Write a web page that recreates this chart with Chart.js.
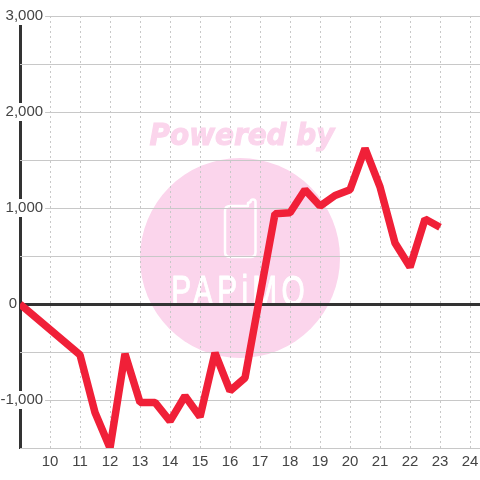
<!DOCTYPE html>
<html>
<head>
<meta charset="utf-8">
<style>
  html, body { margin: 0; padding: 0; background: #fff; }
  canvas { display: block; }
</style>
<script src="https://cdn.jsdelivr.net/npm/chart.js@4"></script>
</head>
<body>
<canvas id="grafico" width="480" height="480"></canvas>
<script>
// hours of the day and the value at each half hour
const horas = [9, 11, 11.5, 12, 12.5, 13, 13.5, 14, 14.5, 15, 15.5, 16, 16.5, 17, 17.5, 18, 18.5, 19, 19.5, 20, 20.5, 21, 21.5, 22, 22.5, 23];
const valores = [0, -530, -1130, -1500, -520, -1025, -1025, -1220, -958, -1175, -510, -905, -770, 90, 940, 950, 1190, 1020, 1130, 1190, 1620, 1220, 635, 385, 885, 800];

const corTexto = '#444';
const corGrade = '#c8c8c8';
const corEixo = '#333';
const fonte = { family: '"Liberation Sans", Arial, sans-serif', size: 15 };

// watermark sits under the grid
const marcaDagua = {
  id: 'marcaDagua',
  beforeDraw(chart) {
    const ctx = chart.ctx;
    ctx.save();
    ctx.fillStyle = '#fbd5ec';
    ctx.beginPath();
    ctx.arc(240, 258, 100, 0, Math.PI * 2);
    ctx.fill();

    ctx.font = 'italic bold 31px "DejaVu Sans Condensed", "DejaVu Sans"';
    ctx.textAlign = 'center';
    ctx.textBaseline = 'alphabetic';
    ctx.strokeStyle = '#fbd5ec';
    ctx.lineWidth = 1;
    ctx.fillText('Powered by', 242, 145);
    ctx.strokeText('Powered by', 242, 145);

    // phone
    ctx.strokeStyle = '#fff';
    ctx.lineWidth = 2.5;
    ctx.lineJoin = 'round';
    ctx.beginPath();
    ctx.moveTo(230, 206);
    ctx.lineTo(248, 206);
    ctx.lineTo(248, 203);
    ctx.arc(253, 202, 2.5, Math.PI, 0);
    ctx.lineTo(255.5, 252);
    ctx.quadraticCurveTo(255.5, 257, 251, 257);
    ctx.lineTo(230, 257);
    ctx.quadraticCurveTo(225, 257, 225, 252);
    ctx.lineTo(225, 211);
    ctx.quadraticCurveTo(225, 206, 230, 206);
    ctx.stroke();

    // name, stretched tall
    ctx.fillStyle = '#fff';
    ctx.translate(240, 305);
    ctx.scale(1.42, 2.05);
    ctx.font = '21px "Liberation Sans"';
    ctx.letterSpacing = '3px';
    ctx.lineWidth = 0.5;
    ctx.fillText('PAPiMO', 0, 0);
    ctx.strokeText('PAPiMO', 0, 0);
    ctx.restore();
  }
};

const grafico = new Chart(document.getElementById('grafico'), {
  type: 'line',
  data: {
    datasets: [{
      data: horas.map((h, i) => ({ x: h, y: valores[i] })),
      borderColor: '#f02038',
      borderWidth: 7.5,
      borderJoinStyle: 'bevel',
      pointRadius: 0,
      tension: 0
    }]
  },
  plugins: [marcaDagua],
  options: {
    responsive: false,
    animation: false,
    layout: { padding: { top: 16, left: 0, right: 0, bottom: 0 } },
    plugins: { legend: { display: false }, tooltip: { enabled: false } },
    scales: {
      x: {
        type: 'linear',
        min: 9,
        max: 24.333,
        afterFit: s => { s.height = 32; s.paddingLeft = 0; s.paddingRight = 0; },
        grid: { color: corGrade, lineWidth: 1, drawTicks: false, z: -1 },
        border: { display: false, dash: [2, 3] },
        ticks: {
          stepSize: 1,
          includeBounds: false,
          autoSkip: false,
          maxRotation: 0,
          padding: 5,
          color: corTexto,
          font: fonte,
          callback: v => (v === 9 ? '' : String(v))
        }
      },
      // axis line and the lone 0 label, left of the plot
      eixo: {
        axis: 'y',
        position: 'left',
        min: -1500,
        max: 3000,
        afterFit: s => { s.width = 20; },
        grid: { display: false, drawTicks: false },
        border: { display: true, color: corEixo, width: 3, z: -1 },
        ticks: {
          stepSize: 500,
          autoSkip: false,
          padding: 3,
          color: corTexto,
          font: fonte,
          callback: v => (v === 0 ? '0' : '')
        }
      },
      // the other labels sit inside the plot on a white patch
      y: {
        position: { x: 9.77 },
        min: -1500,
        max: 3000,
        grid: {
          drawTicks: false,
          color: c => (c.tick.value === 0 ? corEixo : corGrade),
          lineWidth: c => (c.tick.value === 0 ? 3 : 1),
          z: -1
        },
        border: { display: false },
        ticks: {
          stepSize: 500,
          autoSkip: false,
          padding: 0,
          color: corTexto,
          font: fonte,
          showLabelBackdrop: c => c.tick.value % 1000 === 0 && c.tick.value !== 0,
          backdropColor: '#fff',
          backdropPadding: { left: 0, right: 2, top: 0, bottom: 0 },
          z: 0,
          callback: v => (v % 1000 === 0 && v !== 0 ? v.toLocaleString('en-US') : '')
        }
      }
    }
  }
});
</script>
</body>
</html>
